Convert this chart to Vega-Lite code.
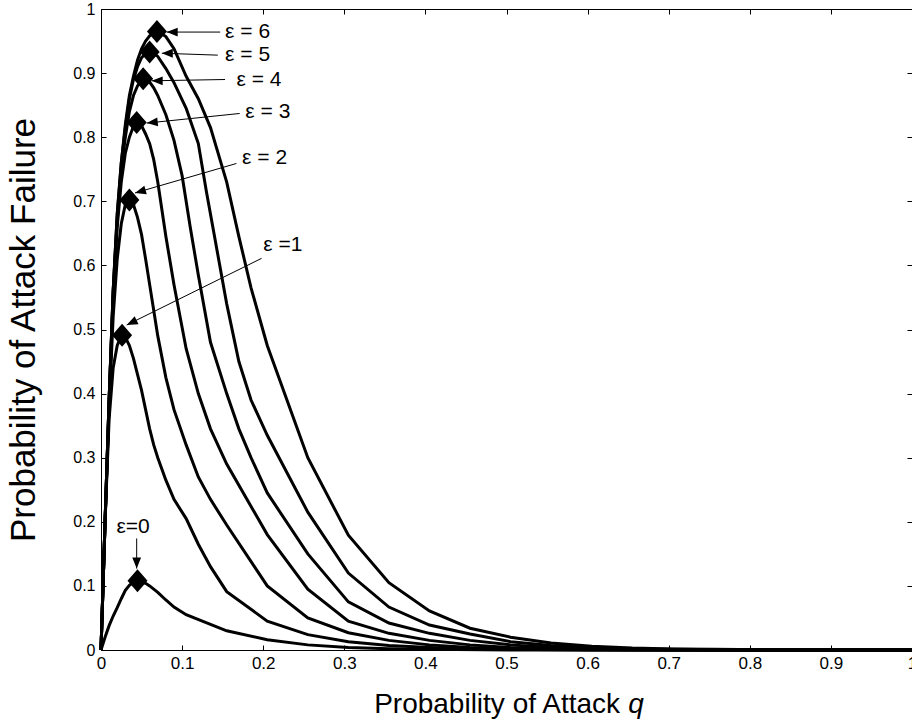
{
  "$schema": "https://vega.github.io/schema/vega-lite/v6.json",
  "width": 811,
  "height": 641,
  "autosize": {"type": "none"},
  "padding": {"left": 101, "top": 9, "right": 0, "bottom": 75},
  "background": "white",
  "config": {
    "view": {"stroke": null},
    "font": "Liberation Sans",
    "axis": {
      "domainColor": "black", "domainWidth": 1,
      "tickColor": "black", "tickWidth": 1, "tickSize": -5,
      "labelColor": "black", "labelFont": "Liberation Sans",
      "titleFont": "Liberation Sans", "titleColor": "black", "titleFontWeight": "normal",
      "grid": false, "labelFlush": false, "labelOverlap": false
    }
  },
  "datasets": {
    "curves": [
      {"e":0,"q":0,"p":0},{"e":0,"q":0.005,"p":0.02},{"e":0,"q":0.01,"p":0.038},{"e":0,"q":0.015,"p":0.053},{"e":0,"q":0.02,"p":0.066},{"e":0,"q":0.025,"p":0.08},{"e":0,"q":0.03,"p":0.093},{"e":0,"q":0.035,"p":0.101},{"e":0,"q":0.04,"p":0.106},{"e":0,"q":0.045,"p":0.108},{"e":0,"q":0.05,"p":0.107},{"e":0,"q":0.055,"p":0.104},{"e":0,"q":0.06,"p":0.1},{"e":0,"q":0.065,"p":0.095},{"e":0,"q":0.07,"p":0.09},{"e":0,"q":0.08,"p":0.078},{"e":0,"q":0.09,"p":0.067},{"e":0,"q":0.105,"p":0.055},{"e":0,"q":0.155,"p":0.03},{"e":0,"q":0.205,"p":0.016},{"e":0,"q":0.255,"p":0.008},{"e":0,"q":0.305,"p":0.004},{"e":0,"q":0.355,"p":0.002},{"e":0,"q":0.405,"p":0.001},{"e":0,"q":0.505,"p":0},{"e":0,"q":1,"p":0},
      {"e":1,"q":0,"p":0},{"e":1,"q":0.005,"p":0.2},{"e":1,"q":0.01,"p":0.36},{"e":1,"q":0.015,"p":0.44},{"e":1,"q":0.02,"p":0.475},{"e":1,"q":0.025,"p":0.49},{"e":1,"q":0.03,"p":0.488},{"e":1,"q":0.035,"p":0.475},{"e":1,"q":0.04,"p":0.455},{"e":1,"q":0.045,"p":0.43},{"e":1,"q":0.05,"p":0.405},{"e":1,"q":0.055,"p":0.375},{"e":1,"q":0.06,"p":0.345},{"e":1,"q":0.065,"p":0.32},{"e":1,"q":0.07,"p":0.3},{"e":1,"q":0.08,"p":0.265},{"e":1,"q":0.09,"p":0.235},{"e":1,"q":0.105,"p":0.205},{"e":1,"q":0.12,"p":0.165},{"e":1,"q":0.135,"p":0.13},{"e":1,"q":0.155,"p":0.091},{"e":1,"q":0.205,"p":0.045},{"e":1,"q":0.255,"p":0.024},{"e":1,"q":0.305,"p":0.013},{"e":1,"q":0.355,"p":0.007},{"e":1,"q":0.405,"p":0.004},{"e":1,"q":0.455,"p":0.002},{"e":1,"q":0.505,"p":0.001},{"e":1,"q":0.6,"p":0},{"e":1,"q":1,"p":0},
      {"e":2,"q":0,"p":0},{"e":2,"q":0.005,"p":0.2},{"e":2,"q":0.01,"p":0.38},{"e":2,"q":0.015,"p":0.52},{"e":2,"q":0.02,"p":0.61},{"e":2,"q":0.025,"p":0.665},{"e":2,"q":0.03,"p":0.695},{"e":2,"q":0.035,"p":0.702},{"e":2,"q":0.04,"p":0.695},{"e":2,"q":0.045,"p":0.675},{"e":2,"q":0.05,"p":0.648},{"e":2,"q":0.055,"p":0.61},{"e":2,"q":0.06,"p":0.57},{"e":2,"q":0.065,"p":0.53},{"e":2,"q":0.07,"p":0.49},{"e":2,"q":0.08,"p":0.425},{"e":2,"q":0.09,"p":0.375},{"e":2,"q":0.105,"p":0.32},{"e":2,"q":0.12,"p":0.27},{"e":2,"q":0.135,"p":0.235},{"e":2,"q":0.155,"p":0.195},{"e":2,"q":0.205,"p":0.1},{"e":2,"q":0.255,"p":0.05},{"e":2,"q":0.305,"p":0.027},{"e":2,"q":0.355,"p":0.015},{"e":2,"q":0.405,"p":0.008},{"e":2,"q":0.455,"p":0.004},{"e":2,"q":0.505,"p":0.002},{"e":2,"q":0.555,"p":0.001},{"e":2,"q":0.65,"p":0},{"e":2,"q":1,"p":0},
      {"e":3,"q":0,"p":0},{"e":3,"q":0.005,"p":0.2},{"e":3,"q":0.01,"p":0.39},{"e":3,"q":0.015,"p":0.55},{"e":3,"q":0.02,"p":0.66},{"e":3,"q":0.025,"p":0.73},{"e":3,"q":0.03,"p":0.775},{"e":3,"q":0.035,"p":0.8},{"e":3,"q":0.04,"p":0.817},{"e":3,"q":0.045,"p":0.823},{"e":3,"q":0.05,"p":0.818},{"e":3,"q":0.055,"p":0.805},{"e":3,"q":0.06,"p":0.79},{"e":3,"q":0.065,"p":0.765},{"e":3,"q":0.07,"p":0.73},{"e":3,"q":0.08,"p":0.645},{"e":3,"q":0.09,"p":0.57},{"e":3,"q":0.105,"p":0.47},{"e":3,"q":0.12,"p":0.4},{"e":3,"q":0.135,"p":0.345},{"e":3,"q":0.155,"p":0.29},{"e":3,"q":0.205,"p":0.18},{"e":3,"q":0.255,"p":0.095},{"e":3,"q":0.305,"p":0.045},{"e":3,"q":0.355,"p":0.026},{"e":3,"q":0.405,"p":0.015},{"e":3,"q":0.455,"p":0.008},{"e":3,"q":0.505,"p":0.004},{"e":3,"q":0.555,"p":0.002},{"e":3,"q":0.605,"p":0.001},{"e":3,"q":0.7,"p":0},{"e":3,"q":1,"p":0},
      {"e":4,"q":0,"p":0},{"e":4,"q":0.005,"p":0.2},{"e":4,"q":0.01,"p":0.39},{"e":4,"q":0.015,"p":0.56},{"e":4,"q":0.02,"p":0.67},{"e":4,"q":0.025,"p":0.75},{"e":4,"q":0.03,"p":0.8},{"e":4,"q":0.035,"p":0.84},{"e":4,"q":0.04,"p":0.865},{"e":4,"q":0.045,"p":0.88},{"e":4,"q":0.05,"p":0.889},{"e":4,"q":0.055,"p":0.891},{"e":4,"q":0.06,"p":0.886},{"e":4,"q":0.065,"p":0.877},{"e":4,"q":0.07,"p":0.865},{"e":4,"q":0.08,"p":0.835},{"e":4,"q":0.09,"p":0.795},{"e":4,"q":0.1,"p":0.74},{"e":4,"q":0.11,"p":0.66},{"e":4,"q":0.12,"p":0.585},{"e":4,"q":0.135,"p":0.48},{"e":4,"q":0.155,"p":0.4},{"e":4,"q":0.17,"p":0.345},{"e":4,"q":0.185,"p":0.3},{"e":4,"q":0.205,"p":0.245},{"e":4,"q":0.255,"p":0.15},{"e":4,"q":0.305,"p":0.075},{"e":4,"q":0.355,"p":0.042},{"e":4,"q":0.405,"p":0.026},{"e":4,"q":0.455,"p":0.015},{"e":4,"q":0.505,"p":0.008},{"e":4,"q":0.555,"p":0.004},{"e":4,"q":0.605,"p":0.002},{"e":4,"q":0.655,"p":0.001},{"e":4,"q":0.75,"p":0},{"e":4,"q":1,"p":0},
      {"e":5,"q":0,"p":0},{"e":5,"q":0.005,"p":0.2},{"e":5,"q":0.01,"p":0.39},{"e":5,"q":0.015,"p":0.56},{"e":5,"q":0.02,"p":0.68},{"e":5,"q":0.025,"p":0.76},{"e":5,"q":0.03,"p":0.815},{"e":5,"q":0.035,"p":0.86},{"e":5,"q":0.04,"p":0.89},{"e":5,"q":0.045,"p":0.91},{"e":5,"q":0.05,"p":0.924},{"e":5,"q":0.055,"p":0.931},{"e":5,"q":0.06,"p":0.933},{"e":5,"q":0.065,"p":0.931},{"e":5,"q":0.07,"p":0.926},{"e":5,"q":0.08,"p":0.907},{"e":5,"q":0.09,"p":0.885},{"e":5,"q":0.105,"p":0.845},{"e":5,"q":0.12,"p":0.79},{"e":5,"q":0.13,"p":0.715},{"e":5,"q":0.14,"p":0.645},{"e":5,"q":0.155,"p":0.54},{"e":5,"q":0.17,"p":0.45},{"e":5,"q":0.185,"p":0.39},{"e":5,"q":0.205,"p":0.335},{"e":5,"q":0.255,"p":0.215},{"e":5,"q":0.305,"p":0.12},{"e":5,"q":0.355,"p":0.067},{"e":5,"q":0.405,"p":0.039},{"e":5,"q":0.455,"p":0.025},{"e":5,"q":0.505,"p":0.013},{"e":5,"q":0.555,"p":0.007},{"e":5,"q":0.605,"p":0.004},{"e":5,"q":0.655,"p":0.002},{"e":5,"q":0.705,"p":0.001},{"e":5,"q":0.8,"p":0},{"e":5,"q":1,"p":0},
      {"e":6,"q":0,"p":0},{"e":6,"q":0.005,"p":0.2},{"e":6,"q":0.01,"p":0.39},{"e":6,"q":0.015,"p":0.56},{"e":6,"q":0.02,"p":0.68},{"e":6,"q":0.025,"p":0.76},{"e":6,"q":0.03,"p":0.82},{"e":6,"q":0.035,"p":0.865},{"e":6,"q":0.04,"p":0.895},{"e":6,"q":0.045,"p":0.92},{"e":6,"q":0.05,"p":0.938},{"e":6,"q":0.055,"p":0.95},{"e":6,"q":0.06,"p":0.958},{"e":6,"q":0.065,"p":0.963},{"e":6,"q":0.07,"p":0.965},{"e":6,"q":0.08,"p":0.957},{"e":6,"q":0.09,"p":0.938},{"e":6,"q":0.105,"p":0.895},{"e":6,"q":0.12,"p":0.86},{"e":6,"q":0.135,"p":0.815},{"e":6,"q":0.155,"p":0.73},{"e":6,"q":0.17,"p":0.645},{"e":6,"q":0.185,"p":0.565},{"e":6,"q":0.205,"p":0.475},{"e":6,"q":0.255,"p":0.3},{"e":6,"q":0.305,"p":0.179},{"e":6,"q":0.355,"p":0.105},{"e":6,"q":0.405,"p":0.061},{"e":6,"q":0.455,"p":0.034},{"e":6,"q":0.505,"p":0.02},{"e":6,"q":0.555,"p":0.011},{"e":6,"q":0.605,"p":0.006},{"e":6,"q":0.655,"p":0.003},{"e":6,"q":0.705,"p":0.0015},{"e":6,"q":0.755,"p":0.001},{"e":6,"q":0.85,"p":0},{"e":6,"q":1,"p":0}
    ],
    "markers": [
      {"e":0,"q":0.045,"p":0.108},{"e":1,"q":0.026,"p":0.491},{"e":2,"q":0.035,"p":0.702},{"e":3,"q":0.044,"p":0.823},{"e":4,"q":0.052,"p":0.891},{"e":5,"q":0.06,"p":0.933},{"e":6,"q":0.069,"p":0.965}
    ],
    "arrows": [
      {"e":6,"q":0.147,"p":0.964,"q2":0.081,"p2":0.964},
      {"e":5,"q":0.144,"p":0.928,"q2":0.075,"p2":0.931},
      {"e":4,"q":0.153,"p":0.89,"q2":0.0625,"p2":0.888},
      {"e":3,"q":0.171,"p":0.837,"q2":0.0564,"p2":0.822},
      {"e":2,"q":0.167,"p":0.759,"q2":0.0419,"p2":0.713},
      {"e":1,"q":0.198,"p":0.611,"q2":0.0317,"p2":0.507},
      {"e":0,"q":0.044,"p":0.174,"q2":0.044,"p2":0.127}
    ],
    "labels": [
      {"t":"ε = 6","q":0.153,"p":0.964},
      {"t":"ε = 5","q":0.153,"p":0.928},
      {"t":"ε = 4","q":0.167,"p":0.889},
      {"t":"ε = 3","q":0.178,"p":0.84},
      {"t":"ε = 2","q":0.174,"p":0.768},
      {"t":"ε =1","q":0.2,"p":0.632},
      {"t":"ε=0","q":0.019,"p":0.192}
    ]
  },
  "layer": [
    {
      "data": {"name": "curves"},
      "mark": {"type": "line", "color": "black", "strokeWidth": 3},
      "encoding": {
        "x": {"field": "q", "type": "quantitative", "scale": {"domain": [0, 1], "nice": false},
              "axis": {"orient": "bottom", "values": [0,0.1,0.2,0.3,0.4,0.5,0.6,0.7,0.8,0.9,1], "format": "~g", "title": null, "labelFontSize": 17, "labelPadding": 10}},
        "y": {"field": "p", "type": "quantitative", "scale": {"domain": [0, 1], "nice": false},
              "axis": {"orient": "left", "values": [0,0.1,0.2,0.3,0.4,0.5,0.6,0.7,0.8,0.9,1], "format": "~g", "title": "Probability of Attack Failure", "titleFontSize": 35, "titlePadding": 31, "labelFontSize": 16, "labelPadding": 11}},
        "detail": {"field": "e", "type": "nominal"}
      }
    },
    {
      "data": {"name": "markers"},
      "mark": {"type": "point", "shape": "M-1,0L0,-1.15L1,0L0,1.15Z", "filled": true, "color": "black", "opacity": 1, "size": 400},
      "encoding": {
        "x": {"field": "q", "type": "quantitative", "scale": {"domain": [0, 1]}, "axis": null},
        "y": {"field": "p", "type": "quantitative", "scale": {"domain": [0, 1]}, "axis": null}
      }
    },
    {
      "data": {"name": "arrows"},
      "mark": {"type": "rule", "color": "black", "strokeWidth": 1},
      "encoding": {
        "x": {"field": "q", "type": "quantitative", "scale": {"domain": [0, 1]}, "axis": null},
        "y": {"field": "p", "type": "quantitative", "scale": {"domain": [0, 1]}, "axis": null},
        "x2": {"field": "q2"},
        "y2": {"field": "p2"}
      }
    },
    {
      "data": {"name": "arrows"},
      "transform": [{"filter": "datum.e >= 4"}],
      "mark": {"type": "point", "shape": "M0,0L-0.4,1L0.4,1Z", "filled": true, "color": "black", "opacity": 1, "size": 484, "angle": 270},
      "encoding": {
        "x": {"field": "q2", "type": "quantitative", "scale": {"domain": [0, 1]}, "axis": null},
        "y": {"field": "p2", "type": "quantitative", "scale": {"domain": [0, 1]}, "axis": null}
      }
    },
    {
      "data": {"name": "arrows"},
      "transform": [{"filter": "datum.e == 3"}],
      "mark": {"type": "point", "shape": "M0,0L-0.4,1L0.4,1Z", "filled": true, "color": "black", "opacity": 1, "size": 484, "angle": 264},
      "encoding": {
        "x": {"field": "q2", "type": "quantitative", "scale": {"domain": [0, 1]}, "axis": null},
        "y": {"field": "p2", "type": "quantitative", "scale": {"domain": [0, 1]}, "axis": null}
      }
    },
    {
      "data": {"name": "arrows"},
      "transform": [{"filter": "datum.e == 2"}],
      "mark": {"type": "point", "shape": "M0,0L-0.4,1L0.4,1Z", "filled": true, "color": "black", "opacity": 1, "size": 484, "angle": 254},
      "encoding": {
        "x": {"field": "q2", "type": "quantitative", "scale": {"domain": [0, 1]}, "axis": null},
        "y": {"field": "p2", "type": "quantitative", "scale": {"domain": [0, 1]}, "axis": null}
      }
    },
    {
      "data": {"name": "arrows"},
      "transform": [{"filter": "datum.e == 1"}],
      "mark": {"type": "point", "shape": "M0,0L-0.4,1L0.4,1Z", "filled": true, "color": "black", "opacity": 1, "size": 484, "angle": 244},
      "encoding": {
        "x": {"field": "q2", "type": "quantitative", "scale": {"domain": [0, 1]}, "axis": null},
        "y": {"field": "p2", "type": "quantitative", "scale": {"domain": [0, 1]}, "axis": null}
      }
    },
    {
      "data": {"name": "arrows"},
      "transform": [{"filter": "datum.e == 0"}],
      "mark": {"type": "point", "shape": "M0,0L-0.4,1L0.4,1Z", "filled": true, "color": "black", "opacity": 1, "size": 484, "angle": 180},
      "encoding": {
        "x": {"field": "q2", "type": "quantitative", "scale": {"domain": [0, 1]}, "axis": null},
        "y": {"field": "p2", "type": "quantitative", "scale": {"domain": [0, 1]}, "axis": null}
      }
    },
    {
      "data": {"values": [{"t": "Probability of Attack", "q": 0.64, "p": -0.098}]},
      "mark": {"type": "text", "align": "right", "baseline": "alphabetic", "fontSize": 28, "font": "Liberation Sans", "color": "black"},
      "encoding": {
        "x": {"field": "q", "type": "quantitative", "scale": {"domain": [0, 1]}, "axis": null},
        "y": {"field": "p", "type": "quantitative", "scale": {"domain": [0, 1]}, "axis": null},
        "text": {"field": "t"}
      }
    },
    {
      "data": {"values": [{"t": "q", "q": 0.65, "p": -0.098}]},
      "mark": {"type": "text", "align": "left", "baseline": "alphabetic", "fontSize": 28, "fontStyle": "italic", "font": "Liberation Sans", "color": "black"},
      "encoding": {
        "x": {"field": "q", "type": "quantitative", "scale": {"domain": [0, 1]}, "axis": null},
        "y": {"field": "p", "type": "quantitative", "scale": {"domain": [0, 1]}, "axis": null},
        "text": {"field": "t"}
      }
    },
    {
      "data": {"name": "labels"},
      "mark": {"type": "text", "align": "left", "baseline": "middle", "fontSize": 21, "font": "Liberation Sans", "color": "black"},
      "encoding": {
        "x": {"field": "q", "type": "quantitative", "scale": {"domain": [0, 1]},
              "axis": {"orient": "top", "values": [0,0.1,0.2,0.3,0.4,0.5,0.6,0.7,0.8,0.9,1], "labels": false, "title": null}},
        "y": {"field": "p", "type": "quantitative", "scale": {"domain": [0, 1]},
              "axis": {"orient": "right", "values": [0,0.1,0.2,0.3,0.4,0.5,0.6,0.7,0.8,0.9,1], "labels": false, "title": null}},
        "text": {"field": "t"}
      }
    }
  ],
  "resolve": {"axis": {"x": "independent", "y": "independent"}}
}
